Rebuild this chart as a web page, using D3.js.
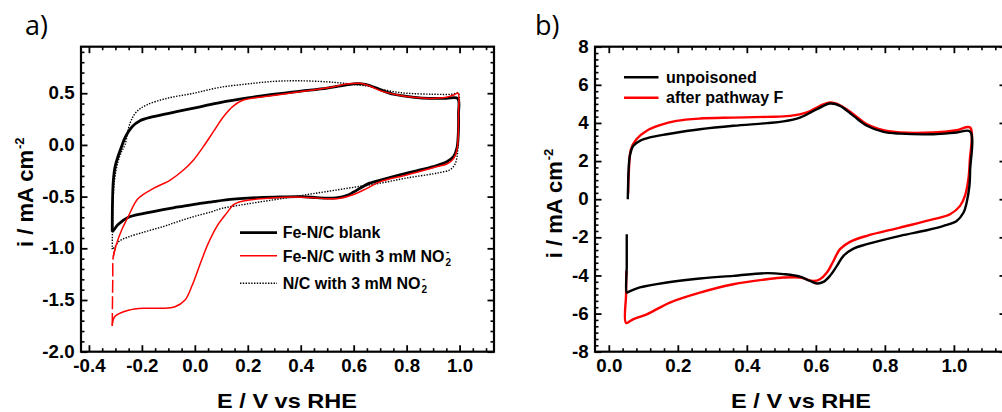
<!DOCTYPE html>
<html>
<head>
<meta charset="utf-8">
<script src="https://cdn.jsdelivr.net/npm/d3@7"></script>
<style>
  html, body { margin: 0; padding: 0; background: #fff; }
  svg { display: block; }
  text { font-family: "Liberation Sans", Arial, sans-serif; }
</style>
</head>
<body>
<svg id="fig" width="1002" height="412"></svg>
<script>
// ---------- Panel a: cyclic voltammograms, [E / V vs RHE, i / mA cm^-2] ----------
const feNCBlank = [
  [-0.312,-0.84],[-0.311,-0.55],[-0.308,-0.35],[-0.302,-0.22],[-0.290,-0.11],[-0.276,-0.01],
  [-0.262,0.079],[-0.237,0.176],[-0.207,0.234],[-0.157,0.273],[-0.069,0.321],[0.020,0.369],
  [0.095,0.41],[0.200,0.455],[0.300,0.49],[0.400,0.52],[0.500,0.55],[0.550,0.57],[0.600,0.59],
  [0.630,0.59],[0.660,0.575],[0.700,0.535],[0.750,0.49],[0.800,0.47],[0.850,0.455],[0.900,0.45],
  [0.950,0.45],[0.993,0.45],[0.996,0.30],[0.995,0.10],[0.990,-0.03],[0.977,-0.114],[0.952,-0.162],
  [0.901,-0.21],[0.838,-0.25],[0.775,-0.29],[0.712,-0.333],[0.660,-0.37],[0.630,-0.41],
  [0.600,-0.455],[0.573,-0.49],[0.540,-0.51],[0.500,-0.515],[0.460,-0.51],[0.400,-0.50],
  [0.300,-0.505],[0.200,-0.515],[0.145,-0.525],[0.064,-0.55],[0.020,-0.565],[-0.062,-0.60],
  [-0.120,-0.625],[-0.188,-0.66],[-0.251,-0.70],[-0.290,-0.77],[-0.305,-0.82],[-0.312,-0.84]
];
// steep rise at the negative vertex, then the rest of the cycle
const feNCNitriteRise = [
  [-0.312,-1.75],[-0.311,-1.50],[-0.310,-1.30],[-0.308,-1.08],[-0.295,-0.95]
];
const feNCNitrite = [
  [-0.308,-1.08],[-0.295,-0.95],[-0.276,-0.82],
  [-0.251,-0.69],[-0.215,-0.52],[-0.156,-0.42],[-0.093,-0.34],[-0.043,-0.243],[-0.005,-0.146],
  [0.032,-0.017],[0.070,0.128],[0.108,0.273],[0.145,0.376],[0.183,0.434],[0.258,0.466],
  [0.384,0.51],[0.510,0.555],[0.573,0.59],[0.623,0.596],[0.660,0.57],[0.700,0.525],
  [0.762,0.485],[0.825,0.46],[0.888,0.45],[0.950,0.46],[0.980,0.485],[0.994,0.50],
  [0.996,0.30],[0.994,0.05],[0.990,-0.05],[0.978,-0.13],[0.955,-0.18],[0.900,-0.22],
  [0.800,-0.29],[0.700,-0.355],[0.650,-0.42],[0.600,-0.48],[0.550,-0.515],[0.500,-0.52],
  [0.450,-0.51],[0.400,-0.505],[0.300,-0.51],[0.250,-0.52],[0.200,-0.535],[0.165,-0.555],
  [0.145,-0.58],[0.120,-0.66],[0.085,-0.78],[0.051,-0.95],[0.026,-1.11],[-0.012,-1.37],
  [-0.037,-1.50],[-0.075,-1.565],[-0.125,-1.58],[-0.188,-1.58],[-0.251,-1.60],[-0.302,-1.66],
  [-0.312,-1.75]
];
const nCNitrite = [
  [-0.312,-1.01],[-0.311,-0.80],[-0.309,-0.55],[-0.303,-0.33],[-0.290,-0.16],[-0.276,-0.06],
  [-0.264,0.0],[-0.245,0.209],[-0.220,0.321],[-0.182,0.386],[-0.106,0.45],[-0.006,0.499],
  [0.095,0.557],[0.200,0.59],[0.300,0.615],[0.400,0.62],[0.500,0.61],[0.550,0.60],[0.600,0.585],
  [0.650,0.57],[0.700,0.54],[0.750,0.515],[0.800,0.50],[0.900,0.49],[0.970,0.49],[0.995,0.50],
  [0.996,0.30],[0.994,0.0],[0.990,-0.12],[0.980,-0.20],[0.960,-0.245],[0.930,-0.265],
  [0.900,-0.28],[0.800,-0.32],[0.700,-0.37],[0.600,-0.41],[0.500,-0.45],[0.400,-0.49],
  [0.300,-0.53],[0.200,-0.57],[0.100,-0.615],[0.064,-0.646],[0.000,-0.69],[-0.062,-0.74],
  [-0.120,-0.79],[-0.188,-0.84],[-0.251,-0.89],[-0.285,-0.93],[-0.302,-0.985],[-0.312,-1.01]
];

// ---------- Panel b ----------
const unpoisoned = [
  [0.055,0.0],[0.056,0.8],[0.057,1.40],[0.061,2.27],[0.071,2.80],[0.090,3.06],[0.119,3.24],
  [0.168,3.41],[0.216,3.55],[0.264,3.67],[0.361,3.85],[0.458,3.99],[0.506,4.08],[0.554,4.28],
  [0.603,4.72],[0.641,5.02],[0.670,4.90],[0.709,4.37],[0.748,3.85],[0.796,3.53],[0.844,3.44],
  [0.941,3.41],[1.008,3.50],[1.047,3.55],[1.047,1.5],[1.045,0.7],[1.037,-0.17],[1.028,-0.70],
  [1.008,-1.14],[0.970,-1.40],[0.921,-1.63],[0.844,-1.92],[0.748,-2.36],[0.709,-2.59],
  [0.680,-2.97],[0.661,-3.50],[0.641,-4.02],[0.622,-4.34],[0.603,-4.42],[0.583,-4.29],
  [0.554,-4.06],[0.506,-3.93],[0.458,-3.88],[0.361,-4.02],[0.264,-4.16],[0.168,-4.37],
  [0.090,-4.63],[0.057,-4.86],[0.052,-4.90],[0.052,-3.50],[0.052,-1.84]
];
const afterPathwayF = [
  [0.056,0.3],[0.058,1.40],[0.064,2.62],[0.080,3.15],[0.109,3.58],[0.148,3.88],[0.196,4.11],
  [0.264,4.23],[0.361,4.28],[0.458,4.32],[0.525,4.37],[0.574,4.55],[0.612,4.90],[0.641,5.07],
  [0.670,4.93],[0.709,4.46],[0.748,3.93],[0.796,3.62],[0.844,3.50],[0.941,3.50],[1.008,3.62],
  [1.047,3.76],[1.046,2.0],[1.042,1.05],[1.032,0.17],[1.018,-0.35],[0.989,-0.79],[0.941,-1.05],
  [0.844,-1.49],[0.748,-1.92],[0.699,-2.24],[0.670,-2.62],[0.651,-3.24],[0.632,-3.85],
  [0.612,-4.20],[0.593,-4.29],[0.554,-4.11],[0.506,-4.11],[0.458,-4.20],[0.361,-4.46],
  [0.264,-4.90],[0.177,-5.42],[0.110,-6.04],[0.070,-6.30],[0.050,-6.49],[0.050,-5.0],[0.051,-3.76]
];

// ---------- Tick values ----------
const aXTicks = [-0.4, -0.2, 0.0, 0.2, 0.4, 0.6, 0.8, 1.0];
const aYTicks = [-2.0, -1.5, -1.0, -0.5, 0.0, 0.5];
const bXTicks = [0.0, 0.2, 0.4, 0.6, 0.8, 1.0];
const bYTicks = [-8, -6, -4, -2, 0, 2, 4, 6, 8];

// ---------- Legend labels ----------
const aLegend = ["Fe-N/C blank", "Fe-N/C with 3 mM NO", "N/C with 3 mM NO"];
const bLegend = ["unpoisoned", "after pathway F"];

const svg = d3.select("#fig");
const FONT = '"Liberation Sans", Arial, sans-serif';

function minorRange(start, stop, step, majors) {
  const out = [];
  const n = Math.round((stop - start) / step);
  for (let k = 0; k <= n; k++) {
    const v = +(start + k * step).toFixed(4);
    if (!majors.some(m => Math.abs(m - v) < 1e-6)) out.push(v);
  }
  return out;
}

function drawPanel(cfg) {
  const g = svg.append("g");
  const x = d3.scaleLinear().domain(cfg.xDomain).range([cfg.left, cfg.right]);
  const y = d3.scaleLinear().domain(cfg.yDomain).range([cfg.bottom, cfg.top]);

  const line = d3.line()
    .x(d => x(d[0])).y(d => y(d[1]))
    .curve(d3.curveCatmullRom.alpha(0.5));

  cfg.series.forEach(s => {
    g.append("path").datum(s.data)
      .attr("d", line)
      .attr("fill", "none")
      .attr("stroke", s.color)
      .attr("stroke-width", s.width)
      .attr("stroke-dasharray", s.dash || null)
      .attr("stroke-linejoin", "round");
  });

  // inward ticks on all four sides
  const sides = [
    { axis: d3.axisBottom(x), t: `translate(0,${cfg.bottom})`, maj: cfg.xMajor, min: cfg.xMinor, lab: true, fmt: cfg.xFmt, h: true },
    { axis: d3.axisTop(x),    t: `translate(0,${cfg.top})`,    maj: cfg.xMajor, min: cfg.xMinor, lab: false },
    { axis: d3.axisLeft(y),   t: `translate(${cfg.left},0)`,   maj: cfg.yMajor, min: cfg.yMinor, lab: true, fmt: cfg.yFmt },
    { axis: d3.axisRight(y),  t: `translate(${cfg.right},0)`,  maj: cfg.yMajor, min: cfg.yMinor, lab: false }
  ];
  sides.forEach(sd => {
    const gm = g.append("g").attr("transform", sd.t)
      .call(sd.axis.tickValues(sd.min).tickSizeInner(-3.5).tickSizeOuter(0).tickFormat(() => ""));
    gm.select(".domain").remove();
    gm.selectAll("line").attr("stroke", "#000").attr("stroke-width", 1.6);

    const ax2 = sd.axis.tickValues(sd.maj).tickSizeInner(-6.5).tickSizeOuter(0)
      .tickPadding(sd.h ? 8 : 6)
      .tickFormat(sd.lab ? sd.fmt : () => "");
    const gM = g.append("g").attr("transform", sd.t).call(ax2);
    gM.select(".domain").remove();
    gM.selectAll("line").attr("stroke", "#000").attr("stroke-width", 1.8);
    gM.selectAll("text")
      .attr("fill", "#000")
      .style("font-family", FONT)
      .style("font-size", "17.5px")
      .style("font-weight", "bold")
      .attr("transform", "scale(1.07,1)");
  });

  g.append("rect")
    .attr("x", cfg.left).attr("y", cfg.top)
    .attr("width", cfg.right - cfg.left).attr("height", cfg.bottom - cfg.top)
    .attr("fill", "none").attr("stroke", "#000").attr("stroke-width", 2.2);

  // axis titles
  g.append("text")
    .attr("transform", `translate(${cfg.xTitle[0]},${cfg.xTitle[1]}) scale(1.12,1)`)
    .attr("text-anchor", "middle")
    .style("font-size", "21px").style("font-weight", "bold")
    .text("E / V vs RHE");

  const yt = g.append("text")
    .attr("transform", `translate(${cfg.yTitle[0]},${cfg.yTitle[1]}) rotate(-90)`)
    .attr("text-anchor", "start")
    .style("font-size", "22px").style("font-weight", "bold");
  yt.append("tspan").text("i / mA cm");
  yt.append("tspan").attr("dy", -9).attr("dx", 1).style("font-size", "13px").text("-2");

  // panel letter
  g.append("text")
    .attr("x", cfg.letter[0]).attr("y", cfg.letter[1])
    .style("font-family", '"Open Sans", "Noto Sans", sans-serif')
    .style("font-size", "27px")
    .text(cfg.letterText);

  return { g, x, y };
}

function nitriteLabel(g, xPos, yBase, label) {
  const t = g.append("text")
    .attr("x", xPos).attr("y", yBase)
    .style("font-size", "16px").style("font-weight", "bold")
    .text(label);
  const w = t.node().getComputedTextLength();
  g.append("text").attr("x", xPos + w + 1).attr("y", yBase + 4)
    .style("font-size", "10px").style("font-weight", "bold").text("2");
  g.append("text").attr("x", xPos + w + 1.5).attr("y", yBase - 7)
    .style("font-size", "10px").style("font-weight", "bold").text("-");
}

// ---------- Panel a ----------
const pa = drawPanel({
  left: 81, right: 494, top: 46.7, bottom: 351.7,
  xDomain: [-0.43, 1.13], yDomain: [-2.0, 0.95],
  xMajor: aXTicks, xMinor: minorRange(-0.4, 1.1, 0.05, aXTicks),
  yMajor: aYTicks, yMinor: minorRange(-2.0, 0.9, 0.1, aYTicks),
  xFmt: d => d.toFixed(1), yFmt: d => d.toFixed(1),
  xTitle: [287, 408], yTitle: [33, 247],
  letter: [25, 35], letterText: "a)",
  series: [
    { data: nCNitrite, color: "#000", width: 1.4, dash: "1.4,1.4" },
    { data: feNCBlank, color: "#000", width: 2.8 },
    { data: feNCNitrite, color: "#ff0000", width: 1.5 },
    { data: feNCNitriteRise, color: "#ff0000", width: 1.5, dash: "13,3.5" }
  ]
});

// legend a
{
  const g = pa.g;
  const rows = [
    { y: 232.7, color: "#000", width: 2.8, dash: null },
    { y: 255.7, color: "#ff0000", width: 1.5, dash: null },
    { y: 283.3, color: "#000", width: 1.4, dash: "1.4,1.4" }
  ];
  rows.forEach((r, i) => {
    g.append("line").attr("x1", 240).attr("x2", 277).attr("y1", r.y).attr("y2", r.y)
      .attr("stroke", r.color).attr("stroke-width", r.width).attr("stroke-dasharray", r.dash);
  });
  g.append("text").attr("x", 282.7).attr("y", 238.3)
    .style("font-size", "16px").style("font-weight", "bold").text(aLegend[0]);
  nitriteLabel(g, 282.7, 261.5, aLegend[1]);
  nitriteLabel(g, 282.7, 289, aLegend[2]);
}

// ---------- Panel b ----------
const pb = drawPanel({
  left: 595, right: 1006, top: 46.7, bottom: 351.7,
  xDomain: [-0.04, 1.151], yDomain: [-8, 8],
  xMajor: bXTicks, xMinor: minorRange(0.0, 1.12, 0.04, bXTicks),
  yMajor: bYTicks, yMinor: minorRange(-8, 8, 2 / 6, bYTicks),
  xFmt: d => d.toFixed(1), yFmt: d => String(d),
  xTitle: [801, 408], yTitle: [561.5, 258.3],
  letter: [535, 35], letterText: "b)",
  series: [
    { data: afterPathwayF, color: "#ff0000", width: 2.4 },
    { data: unpoisoned, color: "#000", width: 2.4 }
  ]
});

// legend b
{
  const g = pb.g;
  const rows = [
    { y: 77.3, color: "#000" },
    { y: 97.7, color: "#ff0000" }
  ];
  rows.forEach((r, i) => {
    g.append("line").attr("x1", 624).attr("x2", 658.5).attr("y1", r.y).attr("y2", r.y)
      .attr("stroke", r.color).attr("stroke-width", 2.4);
    g.append("text").attr("x", 666).attr("y", r.y + 5.7)
      .style("font-size", "16px").style("font-weight", "bold").text(bLegend[i]);
  });
}
</script>
</body>
</html>
